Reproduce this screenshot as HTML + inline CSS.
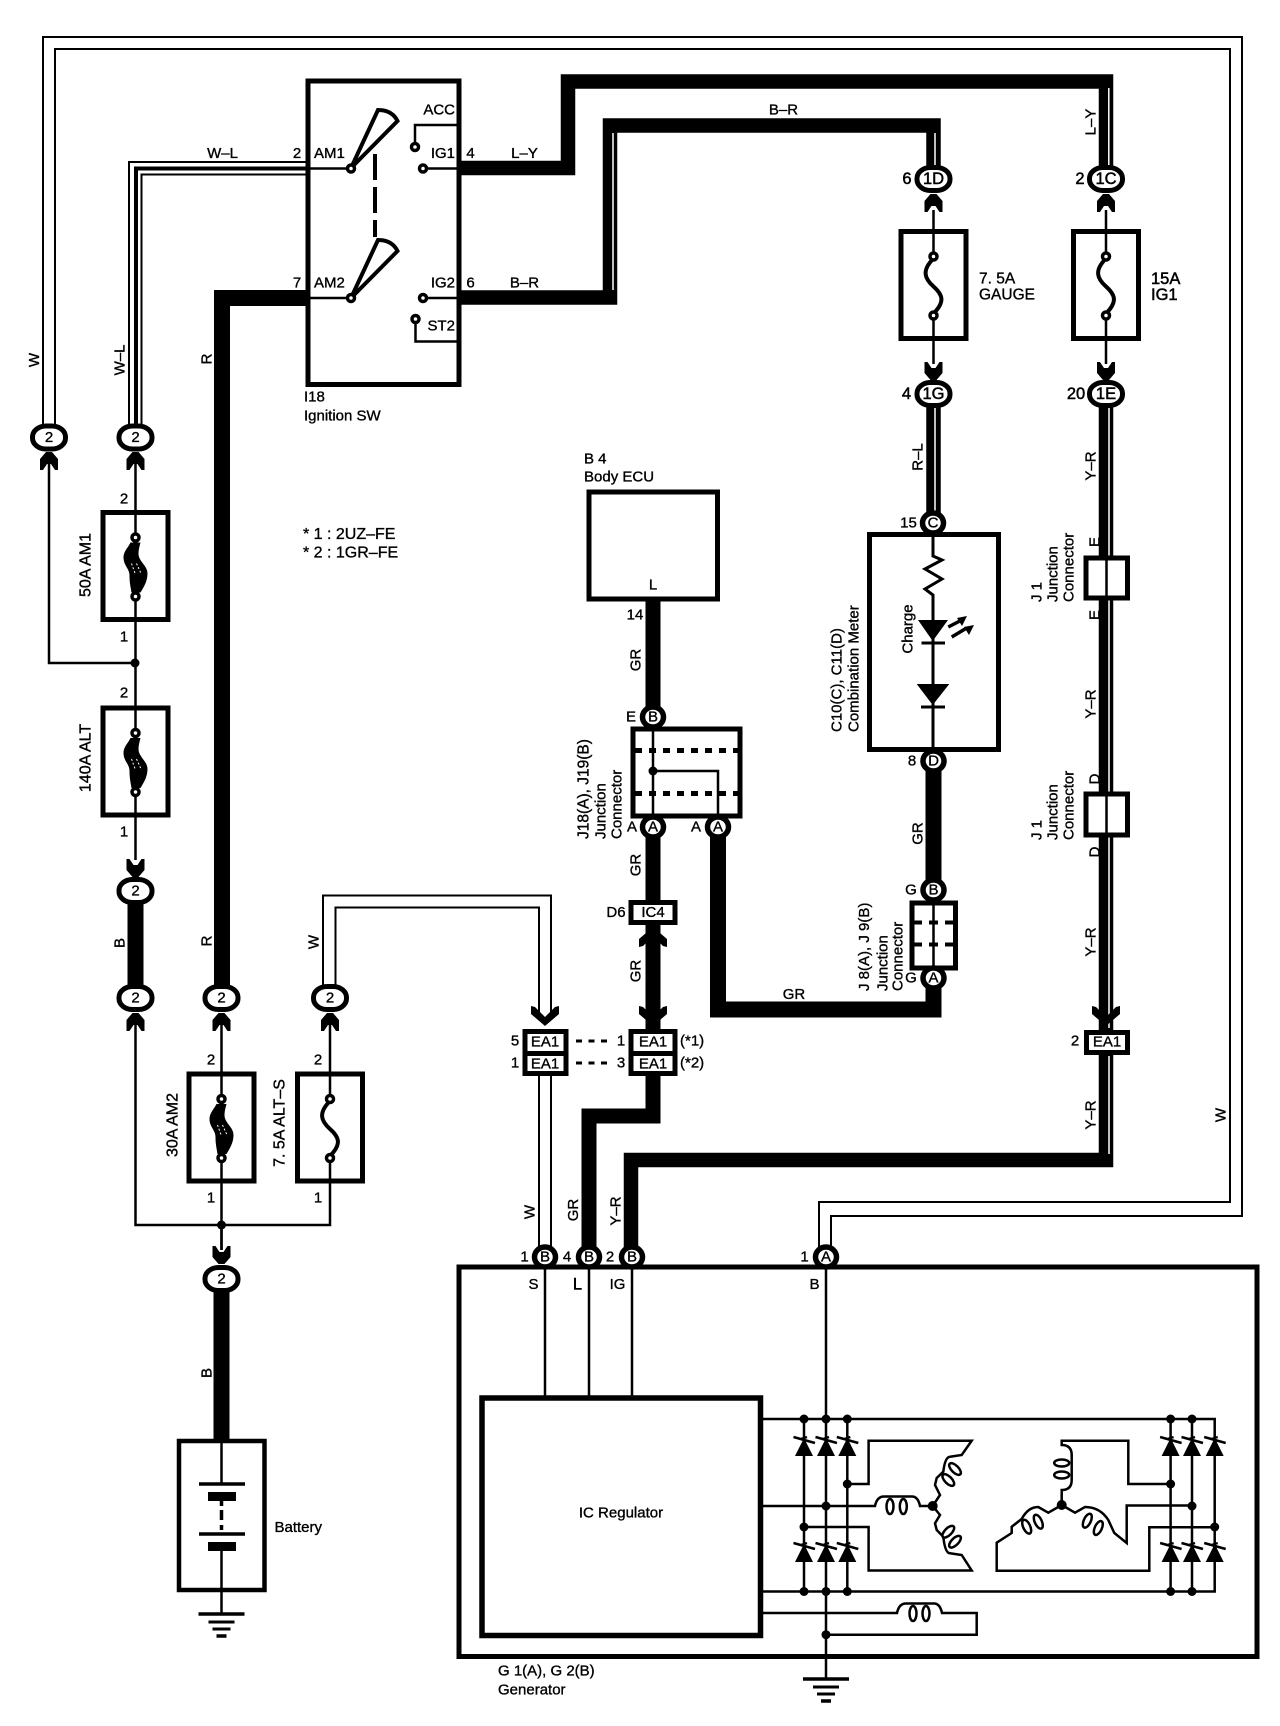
<!DOCTYPE html>
<html><head><meta charset="utf-8"><style>
html,body{margin:0;padding:0;background:#fff}
svg{display:block}
text{font-family:"Liberation Sans",sans-serif;font-size:15px;fill:#000;text-anchor:middle;dominant-baseline:central;stroke:#000;stroke-width:.35}
.s{text-anchor:start}.e{text-anchor:end}.f{font-size:16px}.g{font-size:15.500px}.b{font-size:16.500px;stroke-width:.5}
.w{fill:none;stroke:#000;stroke-linejoin:miter}
.t{stroke-width:2.5}
</style></head><body>
<svg width="1280" height="1726" viewBox="0 0 1280 1726" xmlns="http://www.w3.org/2000/svg">
<defs>
<path id="up" d="M-3 0H3L9 7V18H6L2 12H-2L-6 18H-9V7Z"/>
<path id="dn" d="M-3 18H3L9 11V0H6L2 6H-2L-6 0H-9V11Z"/>
<path id="dnw" d="M0 20L14 8V0L10 1L0 11L-10 1L-14 0V8Z"/>
<path id="upw" d="M0 0L14 12V20L10 19L0 9L-10 19L-14 20V12Z"/>
<g id="big"><rect x="-16.500" y="-11.500" width="33" height="23" rx="13.500" ry="11" fill="#fff" stroke="#000" stroke-width="5"/></g>
<g id="sm"><ellipse rx="10.500" ry="10" fill="#fff" stroke="#000" stroke-width="5.500"/></g>
<g id="contact"><circle r="3.500" fill="#fff" stroke="#000" stroke-width="3.500"/></g>
<g id="fuse"><rect x="-32.500" y="-25" width="65" height="107" fill="#fff" stroke="#000" stroke-width="5"/><path d="M0 -25V2M0 57V82" class="w t"/><path d="M0 2C-12 14-9 22 0 30S12 45 0 57" class="w" stroke-width="4"/><use href="#contact"/><use href="#contact" y="59"/></g>
<g id="fuseT"><rect x="-32.500" y="-25" width="65" height="107" fill="#fff" stroke="#000" stroke-width="5"/><path d="M0 -25V2M0 57V82" class="w t"/><path d="M-5 5C-8 11-12 14-12 20C-12 28-6 31-6 38C-6 45-5 49-4 55H5C8 50 12 44 12 36C12 28 3 24 3 16C3 12 4 9 5 5Z"/><path d="M-4 26L0 37M1 26L6 37" stroke="#fff" stroke-width="1" stroke-dasharray="2 2"/><use href="#contact"/><use href="#contact" y="59"/></g>
<g id="diode"><path d="M0 0L9 18H-9Z"/><path d="M-10.500 -1L11 5M-3 1L3 -1" class="w" stroke-width="2.500"/></g>
<g id="ell"><ellipse rx="3.500" ry="7.500" fill="#fff" stroke="#000" stroke-width="2.500"/></g>
<g id="gnd"><path d="M-23 0H23" stroke="#000" stroke-width="3.500"/><path d="M-13 8H13" stroke="#000" stroke-width="3"/><path d="M-9 15H9" stroke="#000" stroke-width="3"/><path d="M-5 22H5" stroke="#000" stroke-width="3.500"/></g>
</defs>

<!-- W loop -->
<path class="w" stroke-width="2" d="M43 425V37H1242V1216H831V1250"/>
<path class="w" stroke-width="2" d="M55 425V49H1230V1202H819V1250"/>
<!-- W-L -->
<path class="w" stroke-width="2" d="M129 425V162H306"/>
<path class="w" stroke-width="4" d="M136 425V168.500H306"/>
<path class="w" stroke-width="2" d="M141.500 425V174.500H306"/>
<!-- L-Y -->
<path class="w" stroke-width="14.500" d="M459 168H568V81.500H1106V179"/>
<path d="M1108.800 88V170" stroke="#fff" stroke-width="1.500"/>
<!-- B-R -->
<path class="w" stroke-width="14.500" d="M459 297.500H610V125.500H933.500V179"/>
<path d="M613 133V290" stroke="#fff" stroke-width="1.500"/>
<path d="M935 133V170" stroke="#fff" stroke-width="1.500"/>
<!-- R -->
<path class="w" stroke-width="16" d="M306 298H222V998"/>
<!-- fuse side wires -->
<path class="w t" d="M49 455V663H135"/>
<path class="w t" d="M135.500 455V510M135.500 620V706M135.500 815V860"/>
<circle cx="135" cy="663" r="4.500"/>
<path class="w" stroke-width="16" d="M135.500 891V998"/>
<path class="w t" d="M135.500 1015V1225H330V1182"/>
<path class="w t" d="M221.500 1015V1075M221.500 1182V1250M330 1015V1075"/>
<circle cx="221.500" cy="1225" r="4.500"/>
<!-- W double to EA1 -->
<path class="w" stroke-width="2" d="M323 985V895.500H551V1014"/>
<path class="w" stroke-width="2" d="M335.500 985V907.500H539V1014"/>
<path class="w" stroke-width="2" d="M539 1076V1250M551 1076V1250"/>
<!-- fuse right wires -->
<path class="w t" d="M933.500 210V232M933.500 340V364M1106 210V232M1106 340V364"/>
<!-- R-L -->
<path class="w" stroke-width="14.500" d="M933.500 394V523"/>
<path d="M935 406V512" stroke="#fff" stroke-width="1.500"/>
<!-- Y-R -->
<path class="w" stroke-width="14.500" d="M1106 394V1160H631V1257"/>
<path d="M1109 406V1028M1109 1056V1154" stroke="#fff" stroke-width="1.500"/>
<!-- GR -->
<path class="w" stroke-width="15" d="M653 599V717M653 827V900M653 925V1030"/>
<path class="w" stroke-width="15" d="M653 1076V1116H589V1257"/>
<path class="w" stroke-width="16" d="M718 827V1009.500H933.500V978"/>
<path class="w" stroke-width="16" d="M933.500 761V890"/>
<!-- thick B battery -->
<path class="w t" d="M221.500 1225V1250"/>
<path class="w" stroke-width="16" d="M221.500 1279V1441"/>

<!-- arrows -->
<use href="#up" x="49" y="452"/><use href="#up" x="135.500" y="452"/>
<use href="#dn" x="135.500" y="859"/>
<use href="#up" x="135.500" y="1013"/><use href="#up" x="221.500" y="1013"/><use href="#up" x="330" y="1013"/>
<use href="#dn" x="221.500" y="1246"/>
<use href="#up" x="933.500" y="194"/><use href="#up" x="1106" y="194"/>
<use href="#dn" x="933.500" y="362"/><use href="#dn" x="1106" y="362"/>
<use href="#dnw" x="545" y="1006"/><use href="#dnw" x="653" y="1006"/><use href="#dnw" x="1106" y="1006"/>
<use href="#upw" x="653" y="927"/>

<!-- fuses -->
<use href="#fuseT" x="135.500" y="537.500"/>
<use href="#fuseT" x="135.500" y="733"/>
<use href="#fuseT" x="221.500" y="1099"/>
<use href="#fuse" x="330" y="1099"/>
<use href="#fuse" x="933.500" y="256.500"/>
<use href="#fuse" x="1106" y="256.500"/>

<!-- Ignition switch -->
<rect x="308" y="81" width="151" height="303.500" fill="none" stroke="#000" stroke-width="5"/>
<path class="w t" d="M306 168.500H351M306 298H351M459 125H415V146M459 168.500H423M459 298H423M415.500 319V341.500H459"/>
<path class="w" stroke-width="4" fill="#fff" d="M351 168L378 110Q392 110 397.500 121Z"/>
<path class="w" stroke-width="4" fill="#fff" d="M351 298L378 240Q392 240 397.500 251Z"/>
<path d="M375 154V237" stroke="#000" stroke-width="4" stroke-dasharray="26 7" fill="none"/>
<use href="#contact" x="351" y="168.500"/><use href="#contact" x="351" y="298"/>
<use href="#contact" x="415" y="147"/><use href="#contact" x="423" y="168.500"/><use href="#contact" x="423" y="298"/><use href="#contact" x="415.500" y="319"/>

<!-- ECU -->
<rect x="589" y="492" width="128.500" height="107" fill="#fff" stroke="#000" stroke-width="5"/>
<!-- J18 -->
<rect x="633" y="729" width="107" height="87" fill="#fff" stroke="#000" stroke-width="5"/>
<path d="M653 729V816M653 771H718V816" class="w t"/>
<circle cx="653" cy="771" r="4.500"/>
<path d="M635 750.500H738" stroke="#000" stroke-width="5" stroke-dasharray="7 7"/>
<path d="M635 793.500H738" stroke="#000" stroke-width="5" stroke-dasharray="7 7"/>
<!-- Combination meter -->
<rect x="869.500" y="534.500" width="129" height="215" fill="#fff" stroke="#000" stroke-width="5"/>
<path class="w" stroke-width="3" d="M933 535V556L942 560L925 569L942 579L925 589L933 595V749"/>
<path d="M932.700 641L918 620H948Z"/><path d="M921.500 643H945" stroke="#000" stroke-width="3"/>
<path d="M932.700 705L916.700 684H949.300Z"/><path d="M921 707H945" stroke="#000" stroke-width="3"/>
<path d="M948.300 627L961.700 620M951.700 637L966.700 628" stroke="#000" stroke-width="3.500"/>
<path d="M967 616L957 618L962 626ZM974 625L964 627L969 635Z"/>
<!-- J8 -->
<rect x="912" y="903" width="43.500" height="65" fill="#fff" stroke="#000" stroke-width="5"/>
<path d="M933.500 903V968" class="w t"/>
<path d="M914 922.500H922M929 922.500H938M945 922.500H953M914 944.500H922M929 944.500H938M945 944.500H953" stroke="#000" stroke-width="4"/>
<!-- J1 -->
<rect x="1086" y="558" width="41.500" height="40" fill="#fff" stroke="#000" stroke-width="5"/>
<rect x="1086" y="794" width="41.500" height="41" fill="#fff" stroke="#000" stroke-width="5"/>
<path d="M1106.500 558V598M1106.500 794V835" stroke="#000" stroke-width="2.500"/>
<!-- connectors box -->
<rect x="631" y="902.500" width="44" height="20" fill="#fff" stroke="#000" stroke-width="5"/>
<rect x="525" y="1031.500" width="41" height="42" fill="#fff" stroke="#000" stroke-width="5"/>
<path d="M522.500 1053.500H568.500" stroke="#000" stroke-width="5"/>
<rect x="631" y="1031.500" width="44" height="42" fill="#fff" stroke="#000" stroke-width="5"/>
<path d="M628.500 1053.500H677.500" stroke="#000" stroke-width="5"/>
<rect x="1086.500" y="1032.500" width="41" height="20" fill="#fff" stroke="#000" stroke-width="5"/>
<path d="M576 1041H610M576 1063H610" stroke="#000" stroke-width="3" stroke-dasharray="6 6.500"/>

<!-- Battery -->
<rect x="179" y="1441" width="85.500" height="149" fill="#fff" stroke="#000" stroke-width="4.500"/>
<path class="w t" d="M221.500 1441V1484M221.500 1551V1613"/>
<path d="M199 1484H245M199 1534H245" stroke="#000" stroke-width="3.500"/>
<path d="M208 1492h28v9h-28zM208 1542h28v9h-28z"/>
<path d="M221.500 1501V1534" stroke="#000" stroke-width="3.500" stroke-dasharray="5 4 10 5"/>
<use href="#gnd" x="221.500" y="1614"/>

<!-- Generator -->
<rect x="459" y="1267" width="798" height="389.500" fill="none" stroke="#000" stroke-width="5"/>
<rect x="482" y="1398" width="278.500" height="237.500" fill="#fff" stroke="#000" stroke-width="5.500"/>
<path class="w t" d="M545 1266V1397M589 1266V1397M632 1266V1397"/>
<path class="w t" d="M826 1266V1679"/>
<use href="#gnd" x="826" y="1679"/>
<path class="w t" d="M761 1419H1214.700V1591.500H761"/>
<path class="w t" d="M804 1419V1591.500M847.300 1419V1591.500M1170.600 1419V1591.500M1192 1419V1591.500"/>
<use href="#diode" x="804" y="1438"/><use href="#diode" x="826" y="1438"/><use href="#diode" x="847.300" y="1438"/>
<use href="#diode" x="804" y="1544"/><use href="#diode" x="826" y="1544"/><use href="#diode" x="847.300" y="1544"/>
<use href="#diode" x="1170.600" y="1438"/><use href="#diode" x="1192" y="1438"/><use href="#diode" x="1214.700" y="1438"/>
<use href="#diode" x="1170.600" y="1544"/><use href="#diode" x="1192" y="1544"/><use href="#diode" x="1214.700" y="1544"/>
<!-- stator left -->
<path class="w t" d="M761 1506H875Q877 1496.500 884 1496.500H912Q918 1496.500 920 1506H932.700L940 1495L935 1485L936.700 1478L943.300 1471.700Q945 1457 950 1456.700L961.700 1455L971.700 1440.700H868.600V1484H847.300"/>
<path class="w t" d="M932.700 1506L940 1515L935 1523.300L936.700 1530L943.300 1536.700Q945 1553 950 1553.300L961.700 1555L971.700 1570.500H868.600V1527H804"/>
<use href="#ell" x="890" y="1506.500"/><use href="#ell" x="903.300" y="1506.500"/>
<use href="#ell" transform="translate(955 1469) rotate(-45)"/><use href="#ell" transform="translate(948.300 1480) rotate(-45)"/>
<use href="#ell" transform="translate(948.300 1531.700) rotate(45)"/><use href="#ell" transform="translate(955 1541.700) rotate(45)"/>
<!-- stator right -->
<path class="w t" d="M1170.600 1484H1128.300V1440.700H1061.700V1445Q1071.700 1445 1071.700 1455V1480Q1071.700 1490 1061.700 1490V1505"/>
<path class="w t" d="M1061.700 1505L1048.300 1512.700L1038.300 1507Q1028 1507 1021.700 1519L1011.700 1526.700V1533L996.700 1542.700V1570.700H1149.300V1527.300H1214.700"/>
<path class="w t" d="M1061.700 1505L1075 1512.700L1085 1507Q1100 1507 1108.300 1520L1114.300 1533L1126.700 1543V1505.500H1192"/>
<g transform="translate(1061.700 1463) rotate(90)"><use href="#ell"/></g>
<g transform="translate(1061.700 1475) rotate(90)"><use href="#ell"/></g>
<use href="#ell" transform="translate(1026.700 1526.700) rotate(-25)"/><use href="#ell" transform="translate(1038.300 1521.700) rotate(-25)"/>
<use href="#ell" transform="translate(1087.300 1520.700) rotate(25)"/><use href="#ell" transform="translate(1098.300 1528) rotate(25)"/>
<!-- field coil -->
<path class="w t" d="M761 1613H897Q899 1603.500 906 1603.500H934Q940 1603.500 942 1613H976.700V1634.700H826"/>
<use href="#ell" x="913" y="1613.500"/><use href="#ell" x="926" y="1613.500"/>
<g>
<circle cx="804" cy="1419" r="4.500"/><circle cx="826" cy="1419" r="4.500"/><circle cx="847.300" cy="1419" r="4.500"/><circle cx="1170.600" cy="1419" r="4.500"/><circle cx="1192" cy="1419" r="4.500"/>
<circle cx="804" cy="1591.500" r="4.500"/><circle cx="826" cy="1591.500" r="4.500"/><circle cx="847.300" cy="1591.500" r="4.500"/><circle cx="1170.600" cy="1591.500" r="4.500"/><circle cx="1192" cy="1591.500" r="4.500"/>
<circle cx="826" cy="1506" r="4.500"/><circle cx="847.300" cy="1484" r="4.500"/><circle cx="804" cy="1527" r="4.500"/><circle cx="826" cy="1634.700" r="4.500"/><circle cx="1170.600" cy="1484" r="4.500"/><circle cx="1192" cy="1506" r="4.500"/><circle cx="1214.700" cy="1527" r="4.500"/><circle cx="932.700" cy="1506" r="5"/><circle cx="1061.700" cy="1505" r="5"/>
</g>

<!-- connectors -->
<use href="#big" x="49" y="437.500"/><use href="#big" x="135.500" y="437.500"/>
<use href="#big" x="135.500" y="891"/><use href="#big" x="135.500" y="998"/><use href="#big" x="221.500" y="998"/><use href="#big" x="330" y="998"/>
<use href="#big" x="221.500" y="1279"/>
<use href="#big" x="933.500" y="179"/><use href="#big" x="1106" y="179"/><use href="#big" x="933.500" y="394"/><use href="#big" x="1106" y="394"/>
<use href="#sm" x="933" y="523"/><use href="#sm" x="933.500" y="761"/><use href="#sm" x="933.500" y="890"/><use href="#sm" x="933.500" y="978"/>
<use href="#sm" x="653" y="717"/><use href="#sm" x="653" y="827"/><use href="#sm" x="718" y="827"/>
<use href="#sm" x="545" y="1257"/><use href="#sm" x="589" y="1257"/><use href="#sm" x="632" y="1257"/><use href="#sm" x="826" y="1257"/>

<!-- connector text -->
<text x="49" y="437.500">2</text><text x="135.500" y="437.500">2</text><text x="135.500" y="891">2</text><text x="135.500" y="998">2</text><text x="221.500" y="998">2</text><text x="330" y="998">2</text><text x="221.500" y="1279">2</text>
<text x="933.500" y="179" class="b">1D</text><text x="1106" y="179" class="b">1C</text><text x="933.500" y="394" class="b">1G</text><text x="1106" y="394" class="b">1E</text>
<text x="933" y="523">C</text><text x="933.500" y="761">D</text><text x="933.500" y="890">B</text><text x="933.500" y="978">A</text>
<text x="653" y="717">B</text><text x="653" y="827">A</text><text x="718" y="827">A</text>
<text x="545" y="1257">B</text><text x="589" y="1257">B</text><text x="632" y="1257">B</text><text x="826" y="1257">A</text>
<text x="653" y="912.500">IC4</text><text x="545" y="1042">EA1</text><text x="545" y="1064">EA1</text><text x="653" y="1042">EA1</text><text x="653" y="1064">EA1</text><text x="1107" y="1042">EA1</text>

<!-- labels -->
<text x="222.500" y="153.500">W–L</text><text x="297" y="153.500">2</text><text x="314" y="153.500" class="s">AM1</text>
<text x="297" y="283">7</text><text x="314" y="283" class="s">AM2</text>
<text x="455" y="110" class="e">ACC</text><text x="455" y="153.500" class="e">IG1</text><text x="470.500" y="153.500">4</text><text x="524.500" y="153.500">L–Y</text>
<text x="455" y="283" class="e">IG2</text><text x="470.500" y="283">6</text><text x="524.500" y="283">B–R</text>
<text x="455" y="326" class="e">ST2</text><text x="783.500" y="110">B–R</text>
<text x="304" y="397" class="s">I18</text><text x="304" y="416" class="s">Ignition SW</text>
<text x="303" y="534.500" class="s f">* 1 : 2UZ–FE</text><text x="303" y="553" class="s f">* 2 : 1GR–FE</text>
<text x="584" y="459" class="s">B 4</text><text x="584" y="477" class="s">Body ECU</text>
<text x="653" y="585">L</text><text x="635" y="615">14</text>
<text x="631" y="717">E</text><text x="632" y="827">A</text><text x="696" y="827">A</text><text x="616" y="912.500">D6</text>
<text x="515" y="1041">5</text><text x="515" y="1063">1</text><text x="621" y="1041">1</text><text x="621" y="1063">3</text>
<text x="680" y="1041" class="s">(*1)</text><text x="680" y="1063" class="s">(*2)</text>
<text x="124" y="499">2</text><text x="124" y="637">1</text><text x="124" y="693">2</text><text x="124" y="832">1</text>
<text x="211" y="1060">2</text><text x="211" y="1198">1</text><text x="318" y="1060">2</text><text x="318" y="1198">1</text>
<text x="907" y="179" class="b">6</text><text x="1080" y="179" class="b">2</text><text x="906.500" y="394" class="b">4</text><text x="1076" y="394" class="b">20</text>
<text x="979" y="279" class="s g">7. 5A</text><text x="979" y="295" class="s g">GAUGE</text>
<text x="1151" y="279" class="s b">15A</text><text x="1151" y="295" class="s b">IG1</text>
<text x="908.500" y="523">15</text><text x="912" y="761">8</text><text x="911" y="890">G</text><text x="911" y="978">G</text>
<text x="794" y="994.500">GR</text><text x="1075" y="1041">2</text>
<text x="524.500" y="1257">1</text><text x="567" y="1257">4</text><text x="610" y="1257">2</text><text x="804.500" y="1257">1</text>
<text x="533.500" y="1284.500">S</text><text x="577.500" y="1284.500" class="b">L</text><text x="617.500" y="1284.500">IG</text><text x="814.500" y="1284.500">B</text>
<text x="621" y="1513">IC Regulator</text>
<text x="498" y="1671" class="s">G 1(A), G 2(B)</text><text x="498" y="1690" class="s">Generator</text>
<text x="274.500" y="1527.500" class="s">Battery</text>

<!-- rotated labels -->
<text transform="translate(34.500 360) rotate(-90)">W</text>
<text transform="translate(120 360) rotate(-90)">W–L</text>
<text transform="translate(207 359) rotate(-90)">R</text>
<text transform="translate(207 941) rotate(-90)">R</text>
<text transform="translate(120 943) rotate(-90)">B</text>
<text transform="translate(207 1373) rotate(-90)">B</text>
<text transform="translate(314 942) rotate(-90)">W</text>
<text transform="translate(86 565) rotate(-90)" class="f">50A AM1</text>
<text transform="translate(86 758) rotate(-90)" class="f">140A ALT</text>
<text transform="translate(173 1125) rotate(-90)" class="f">30A AM2</text>
<text transform="translate(280 1123) rotate(-90)" class="f">7. 5A ALT–S</text>
<text transform="translate(636 660) rotate(-90)">GR</text>
<text transform="translate(636 865) rotate(-90)">GR</text>
<text transform="translate(636 971) rotate(-90)">GR</text>
<text transform="translate(584 839) rotate(-90)" class="s g">J18(A), J19(B)</text>
<text transform="translate(601 839) rotate(-90)" class="s">Junction</text>
<text transform="translate(617 839) rotate(-90)" class="s">Connector</text>
<text transform="translate(918 457) rotate(-90)">R–L</text>
<text transform="translate(918 833.500) rotate(-90)">GR</text>
<text transform="translate(908 629) rotate(-90)">Charge</text>
<text transform="translate(837 732) rotate(-90)" class="s">C10(C), C11(D)</text>
<text transform="translate(854 732) rotate(-90)" class="s">Combination Meter</text>
<text transform="translate(864.500 991) rotate(-90)" class="s">J 8(A), J 9(B)</text>
<text transform="translate(883 991) rotate(-90)" class="s">Junction</text>
<text transform="translate(898 991) rotate(-90)" class="s">Connector</text>
<text transform="translate(1091 122) rotate(-90)">L–Y</text>
<text transform="translate(1091 466) rotate(-90)">Y–R</text>
<text transform="translate(1091 704) rotate(-90)">Y–R</text>
<text transform="translate(1091 942) rotate(-90)">Y–R</text>
<text transform="translate(1091 1115) rotate(-90)">Y–R</text>
<text transform="translate(1221 1115) rotate(-90)">W</text>
<text transform="translate(530 1212) rotate(-90)">W</text>
<text transform="translate(573.500 1210) rotate(-90)">GR</text>
<text transform="translate(616 1211) rotate(-90)">Y–R</text>
<text transform="translate(1095 542) rotate(-90)">E</text>
<text transform="translate(1095 615) rotate(-90)">E</text>
<text transform="translate(1095 779) rotate(-90)">D</text>
<text transform="translate(1095 852) rotate(-90)">D</text>
<text transform="translate(1037 602) rotate(-90)" class="s">J 1</text>
<text transform="translate(1053 602) rotate(-90)" class="s">Junction</text>
<text transform="translate(1069 602) rotate(-90)" class="s">Connector</text>
<text transform="translate(1037 840) rotate(-90)" class="s">J 1</text>
<text transform="translate(1053 840) rotate(-90)" class="s">Junction</text>
<text transform="translate(1069 840) rotate(-90)" class="s">Connector</text>
</svg>
</body></html>
